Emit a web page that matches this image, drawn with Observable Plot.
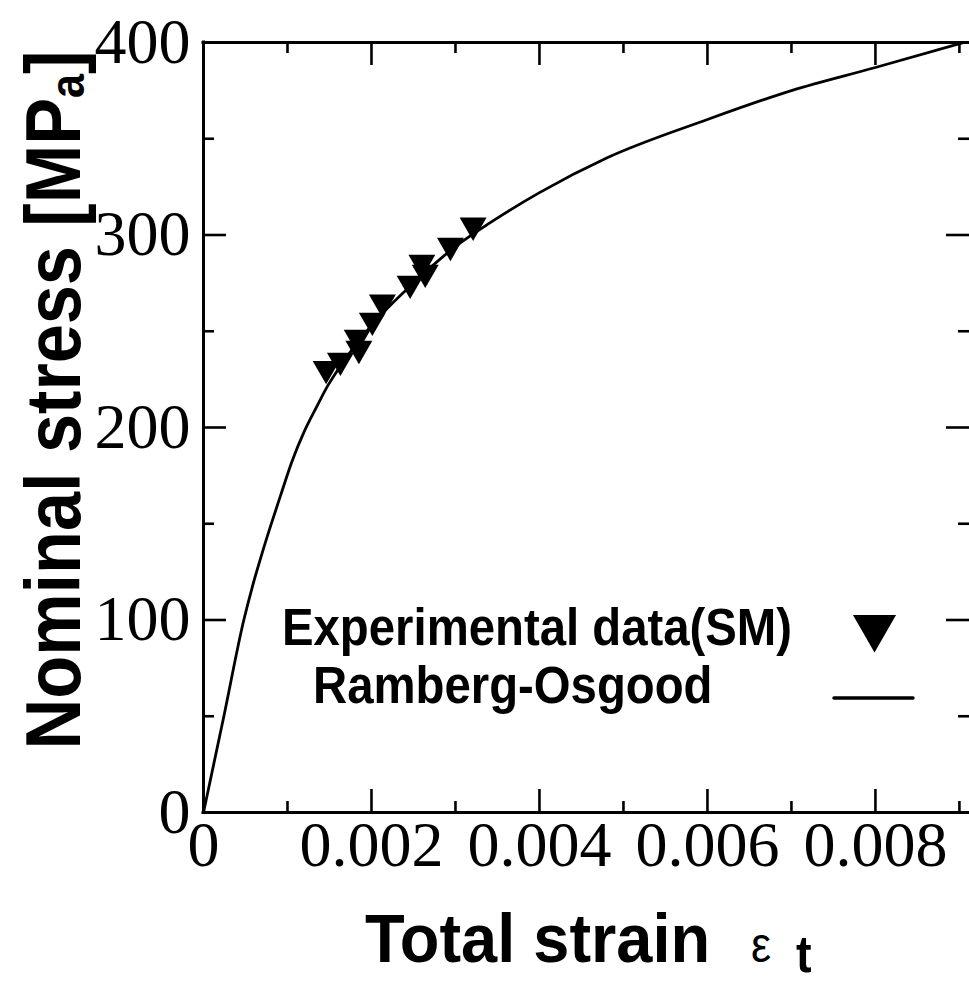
<!DOCTYPE html>
<html><head><meta charset="utf-8">
<script src="https://cdn.jsdelivr.net/npm/d3@7"></script>
<script src="https://cdn.jsdelivr.net/npm/@observablehq/plot@0.6"></script>
<style>
body{margin:0;background:#fff}
#chart{position:relative;width:969px;height:990px;overflow:hidden}
</style>
</head><body><div id="chart"></div>
<script>
// Ramberg-Osgood curve
const curveStrain = [0, 0.00024, 0.00048, 0.00058, 0.0007, 0.0008, 0.00092, 0.00105, 0.0012, 0.00135, 0.00147, 0.0016, 0.002, 0.0025, 0.003, 0.0034, 0.004, 0.0048, 0.006, 0.007, 0.008, 0.00905];
const curveStress = [0, 49.5, 100, 117, 135, 149, 165, 182, 198, 211, 221, 230, 253, 275, 294, 306, 322, 340, 360, 375, 387, 400];
// Experimental data (SM)
const expStrain = [0.00146, 0.00163, 0.00183, 0.00185, 0.00201, 0.00213, 0.00246, 0.0026, 0.00264, 0.00294, 0.00321];
const expStress = [230.5, 234.8, 246.8, 241, 255.6, 265, 274.8, 285.7, 280.5, 294.5, 305];
// ticks
const xTicks = [0, 0.002, 0.004, 0.006, 0.008];
const xTickLabels = ["0", "0.002", "0.004", "0.006", "0.008"];
const xMinorTicks = [0.001, 0.003, 0.005, 0.007, 0.009];
const yTicks = [0, 100, 200, 300, 400];
const yTickLabels = ["0", "100", "200", "300", "400"];
const yMinorTicks = [50, 150, 250, 350];
const legendLabels = ["Experimental data(SM)", "Ramberg-Osgood"];
const xTitle = "Total strain";

const curve = curveStrain.map((x, i) => ({x, y: curveStress[i]}));
const exp = expStrain.map((x, i) => ({x, y: expStress[i]}));

const W = 969, H = 990, mL = 203, mR = 0, mT = 42, mB = 178;
const fw = W - mL - mR, fh = H - mT - mB;
const major = 23, minor = 11, tw = 2.6;
const serif = "'Liberation Serif', 'Times New Roman', serif";
const sans = "'Liberation Sans', Arial, sans-serif";

const plot = Plot.plot({
  width: W, height: H,
  marginLeft: mL, marginRight: mR, marginTop: mT, marginBottom: mB,
  style: {background: "white", color: "black", overflow: "visible"},
  x: {domain: [0, 0.00912]},
  y: {domain: [0, 400]},
  marks: [
    Plot.axisX({ticks: xTicks, tickFormat: d => xTickLabels[xTicks.indexOf(d)], tickSize: 0, tickPadding: 8,
      fontSize: 64, fontFamily: serif, label: null, fill: "black"}),
    Plot.axisY({ticks: yTicks, tickFormat: d => yTickLabels[yTicks.indexOf(d)], tickSize: 0, tickPadding: 13,
      fontSize: 64, fontFamily: serif, label: null, fill: "black"}),
    // inward ticks, all four sides
    Plot.tickX(xTicks, {x: d => d, insetTop: fh - major, stroke: "black", strokeWidth: tw}),
    Plot.tickX(xTicks, {x: d => d, insetBottom: fh - major, stroke: "black", strokeWidth: tw}),
    Plot.tickX(xMinorTicks, {x: d => d, insetTop: fh - minor, stroke: "black", strokeWidth: tw}),
    Plot.tickX(xMinorTicks, {x: d => d, insetBottom: fh - minor, stroke: "black", strokeWidth: tw}),
    Plot.tickY(yTicks, {y: d => d, insetRight: fw - major, stroke: "black", strokeWidth: tw}),
    Plot.tickY(yTicks, {y: d => d, insetLeft: fw - major, stroke: "black", strokeWidth: tw}),
    Plot.tickY(yMinorTicks, {y: d => d, insetRight: fw - minor, stroke: "black", strokeWidth: tw}),
    Plot.tickY(yMinorTicks, {y: d => d, insetLeft: fw - minor, stroke: "black", strokeWidth: tw}),
    // frame (left, bottom, top)
    Plot.ruleX([0], {stroke: "black", strokeWidth: 3, strokeLinecap: "square"}),
    Plot.ruleY([0, 400], {stroke: "black", strokeWidth: 3, strokeLinecap: "square"}),
    // data
    Plot.line(curve, {x: "x", y: "y", curve: "monotone-x", stroke: "black", strokeWidth: 2.8}),
    Plot.dot(exp, {x: "x", y: "y", symbol: "triangle", rotate: 180, r: 10, fill: "black", stroke: "none"}),
    // legend symbol
    Plot.dot([legendLabels[0]], {frameAnchor: "top-left", dx: 874 - mL, dy: 627 - mT, symbol: "triangle", rotate: 180, r: 16, fill: "black", stroke: "none"})
  ]
});

const svg = d3.select(plot);
// legend line
svg.append("line").attr("x1", 834).attr("x2", 913).attr("y1", 698).attr("y2", 698)
  .attr("stroke", "black").attr("stroke-width", 3.5).attr("stroke-linecap", "round");
// horizontal texts (start-anchored)
function txt(x, y, s, size, weight, str) {
  return svg.append("text").attr("transform", `translate(${x},${y}) scale(${s},1)`)
    .attr("text-anchor", "start").attr("font-family", sans).attr("font-weight", weight)
    .attr("font-size", size).attr("fill", "black").text(str);
}
txt(282, 645, 0.91, 52, "bold", legendLabels[0]);
txt(313, 703, 0.91, 52, "bold", legendLabels[1]);
txt(365, 962, 0.955, 68, "bold", xTitle);
txt(751, 962, 0.9, 50, "normal", "ε");
txt(796, 972, 0.9, 52, "bold", "t");
// y title (rotated, condensed along its length)
const yt = svg.append("text").attr("transform", "translate(80,400) rotate(-90) scale(0.9,1)")
  .attr("text-anchor", "middle").attr("font-family", sans).attr("font-weight", "bold").attr("font-size", 78).attr("fill", "black");
yt.append("tspan").text("Nominal stress [MP");
yt.append("tspan").attr("font-size", 48).attr("dy", 4).text("a");
yt.append("tspan").attr("dy", -4).text("]");

document.getElementById("chart").appendChild(plot);
</script>
</body></html>
